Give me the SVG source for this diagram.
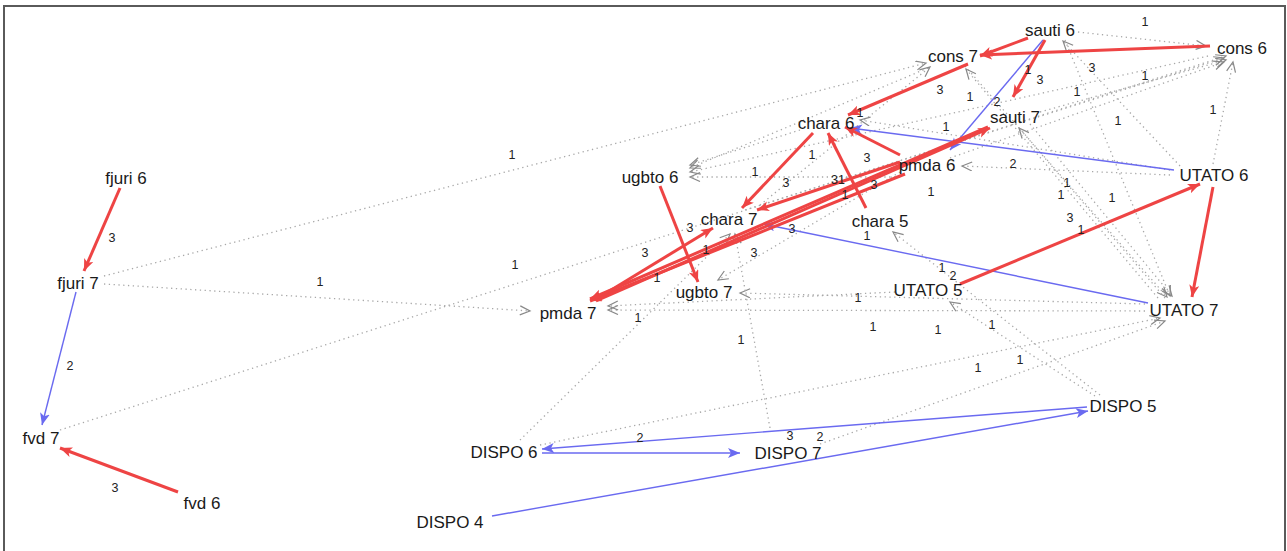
<svg xmlns="http://www.w3.org/2000/svg" width="1287" height="551" viewBox="0 0 1287 551">
<style>
.bg{fill:#fff}
.frame{fill:none;stroke:#5a5a5a;stroke-width:2}
.n{font-family:"Liberation Sans",Arial,sans-serif;font-size:17px;fill:#1a1a1a;text-anchor:middle}
.l{font-family:"Liberation Sans",Arial,sans-serif;font-size:12.5px;fill:#222;text-anchor:middle}
.r{stroke:#ee4444;stroke-width:3;fill:none;marker-end:url(#ar)}
.b{stroke:#6a6af0;stroke-width:1.4;fill:none;marker-end:url(#ab)}
.g{stroke:#a8a8a8;stroke-width:1.3;stroke-dasharray:1.3 3.5;fill:none;marker-end:url(#ag)}
</style>
<defs>
<marker id="ar" markerUnits="userSpaceOnUse" markerWidth="14" markerHeight="12" refX="12" refY="5" orient="auto"><path d="M0,0 L12,5 L0,10 L3,5 z" fill="#ee4444"/></marker>
<marker id="ab" markerUnits="userSpaceOnUse" markerWidth="14" markerHeight="12" refX="12" refY="5" orient="auto"><path d="M0,0 L12,5 L0,10 L3,5 z" fill="#6a6af0"/></marker>
<marker id="ag" markerUnits="userSpaceOnUse" markerWidth="14" markerHeight="12" refX="11" refY="5" orient="auto"><path d="M1,0.5 L11,5 L1,9.5" fill="none" stroke="#888" stroke-width="1.2"/></marker>
</defs>
<rect class="bg" x="0" y="0" width="1287" height="551"/>
<path class="frame" d="M4,560 L4,6 L1285,6 L1285,560"/>
<g id="edges">
<path class="g" d="M104,276 L926,63"/>
<path class="g" d="M104,284 L530,311"/>
<path class="g" d="M60,430 L1226,56"/>
<path class="g" d="M1078,32 L1206,46"/>
<path class="g" d="M1213,164 L1233,62"/>
<path class="g" d="M1170,175 L962,166"/>
<path class="g" d="M900,177 L690,177"/>
<path class="g" d="M1208,56 L690,172"/>
<path class="g" d="M928,68 L690,168"/>
<path class="g" d="M745,210 L1224,58"/>
<path class="g" d="M760,205 L930,67"/>
<path class="g" d="M1040,112 L1226,60"/>
<path class="g" d="M950,158 L1224,62"/>
<path class="g" d="M1065,40 L1170,296"/>
<path class="g" d="M965,66 L1167,297"/>
<path class="g" d="M1030,124 L1172,296"/>
<path class="g" d="M1180,166 L1063,41"/>
<path class="g" d="M1165,298 L1019,128"/>
<path class="g" d="M1158,298 L966,69"/>
<path class="g" d="M1145,311 L608,310"/>
<path class="g" d="M1145,304 L740,293"/>
<path class="g" d="M900,172 L718,280"/>
<path class="g" d="M1100,395 L893,232"/>
<path class="g" d="M1095,396 L950,302"/>
<path class="g" d="M540,445 L1160,318"/>
<path class="g" d="M820,444 L1165,321"/>
<path class="g" d="M520,440 L730,234"/>
<path class="g" d="M770,428 L735,234"/>
<path class="g" d="M895,292 L608,306"/>
<path class="g" d="M800,130 L690,165"/>
<path class="g" d="M1170,170 L860,120"/>
<path class="b" d="M76,292 L42,425"/>
<path class="b" d="M1043,40 L950,150"/>
<path class="b" d="M1174,170 L850,128"/>
<path class="b" d="M1148,303 L763,224"/>
<path class="b" d="M1087,407 L542,449"/>
<path class="b" d="M542,453 L740,453"/>
<path class="b" d="M492,516 L1088,411"/>
<path class="r" d="M120,188 L84,271"/>
<path class="r" d="M178,492 L60,448"/>
<path class="r" d="M1028,38 L980,56"/>
<path class="r" d="M1210,46 L980,55"/>
<path class="r" d="M1045,40 L1013,97"/>
<path class="r" d="M968,64 L848,115"/>
<path class="r" d="M900,155 L845,127"/>
<path class="r" d="M866,208 L828,133"/>
<path class="r" d="M813,133 L742,208"/>
<path class="r" d="M900,162 L757,210"/>
<path class="r" d="M660,186 L698,282"/>
<path class="r" d="M598,298 L713,228"/>
<path class="r" d="M905,174 L590,301"/>
<path class="r" d="M988,127 L590,299"/>
<path class="r" d="M596,301 L990,128"/>
<path class="r" d="M960,284 L1200,184"/>
<path class="r" d="M1213,187 L1192,297"/>
</g>
<g id="edge-labels">
<text class="l" x="1145" y="26">1</text>
<text class="l" x="1092" y="72">3</text>
<text class="l" x="1028" y="74">1</text>
<text class="l" x="1040" y="84">3</text>
<text class="l" x="940" y="94">3</text>
<text class="l" x="970" y="101">1</text>
<text class="l" x="997" y="106">2</text>
<text class="l" x="1077" y="96">1</text>
<text class="l" x="1145" y="80">1</text>
<text class="l" x="1118" y="125">1</text>
<text class="l" x="1213" y="114">1</text>
<text class="l" x="860" y="117">1</text>
<text class="l" x="946" y="131">1</text>
<text class="l" x="512" y="159">1</text>
<text class="l" x="812" y="159">1</text>
<text class="l" x="755" y="176">1</text>
<text class="l" x="867" y="162">3</text>
<text class="l" x="1013" y="168">2</text>
<text class="l" x="786" y="187">3</text>
<text class="l" x="838" y="184">31</text>
<text class="l" x="874" y="189">3</text>
<text class="l" x="845" y="199">1</text>
<text class="l" x="931" y="196">1</text>
<text class="l" x="1067" y="187">1</text>
<text class="l" x="1061" y="199">1</text>
<text class="l" x="1112" y="202">1</text>
<text class="l" x="1070" y="222">3</text>
<text class="l" x="1081" y="234">1</text>
<text class="l" x="867" y="240">1</text>
<text class="l" x="690" y="232">3</text>
<text class="l" x="792" y="233">3</text>
<text class="l" x="645" y="257">3</text>
<text class="l" x="706" y="254">1</text>
<text class="l" x="754" y="257">3</text>
<text class="l" x="657" y="282">1</text>
<text class="l" x="515" y="269">1</text>
<text class="l" x="320" y="286">1</text>
<text class="l" x="942" y="272">1</text>
<text class="l" x="953" y="280">2</text>
<text class="l" x="858" y="302">1</text>
<text class="l" x="638" y="322">1</text>
<text class="l" x="873" y="331">1</text>
<text class="l" x="938" y="334">1</text>
<text class="l" x="992" y="329">1</text>
<text class="l" x="741" y="344">1</text>
<text class="l" x="978" y="372">1</text>
<text class="l" x="1020" y="364">1</text>
<text class="l" x="640" y="442">2</text>
<text class="l" x="790" y="440">3</text>
<text class="l" x="820" y="441">2</text>
<text class="l" x="112" y="242">3</text>
<text class="l" x="70" y="370">2</text>
<text class="l" x="115" y="492">3</text>
</g>
<g id="sauti6"><text class="n" x="1050" y="36">sauti 6</text></g>
<g id="cons6"><text class="n" x="1242" y="54">cons 6</text></g>
<g id="cons7"><text class="n" x="953" y="62">cons 7</text></g>
<g id="chara6"><text class="n" x="826" y="129">chara 6</text></g>
<g id="sauti7"><text class="n" x="1015" y="123">sauti 7</text></g>
<g id="pmda6"><text class="n" x="927" y="171">pmda 6</text></g>
<g id="UTATO6"><text class="n" x="1214" y="181">UTATO 6</text></g>
<g id="ugbto6"><text class="n" x="650" y="183">ugbto 6</text></g>
<g id="fjuri6"><text class="n" x="126" y="184">fjuri 6</text></g>
<g id="chara7"><text class="n" x="729" y="225">chara 7</text></g>
<g id="chara5"><text class="n" x="880" y="227">chara 5</text></g>
<g id="fjuri7"><text class="n" x="78" y="289">fjuri 7</text></g>
<g id="UTATO5"><text class="n" x="928" y="296">UTATO 5</text></g>
<g id="ugbto7"><text class="n" x="704" y="298">ugbto 7</text></g>
<g id="pmda7"><text class="n" x="568" y="319">pmda 7</text></g>
<g id="UTATO7"><text class="n" x="1184" y="316">UTATO 7</text></g>
<g id="DISPO5"><text class="n" x="1123" y="412">DISPO 5</text></g>
<g id="fvd7"><text class="n" x="41" y="444">fvd 7</text></g>
<g id="DISPO6"><text class="n" x="504" y="458">DISPO 6</text></g>
<g id="DISPO7"><text class="n" x="788" y="459">DISPO 7</text></g>
<g id="fvd6"><text class="n" x="202" y="509">fvd 6</text></g>
<g id="DISPO4"><text class="n" x="450" y="528">DISPO 4</text></g>
</svg>
